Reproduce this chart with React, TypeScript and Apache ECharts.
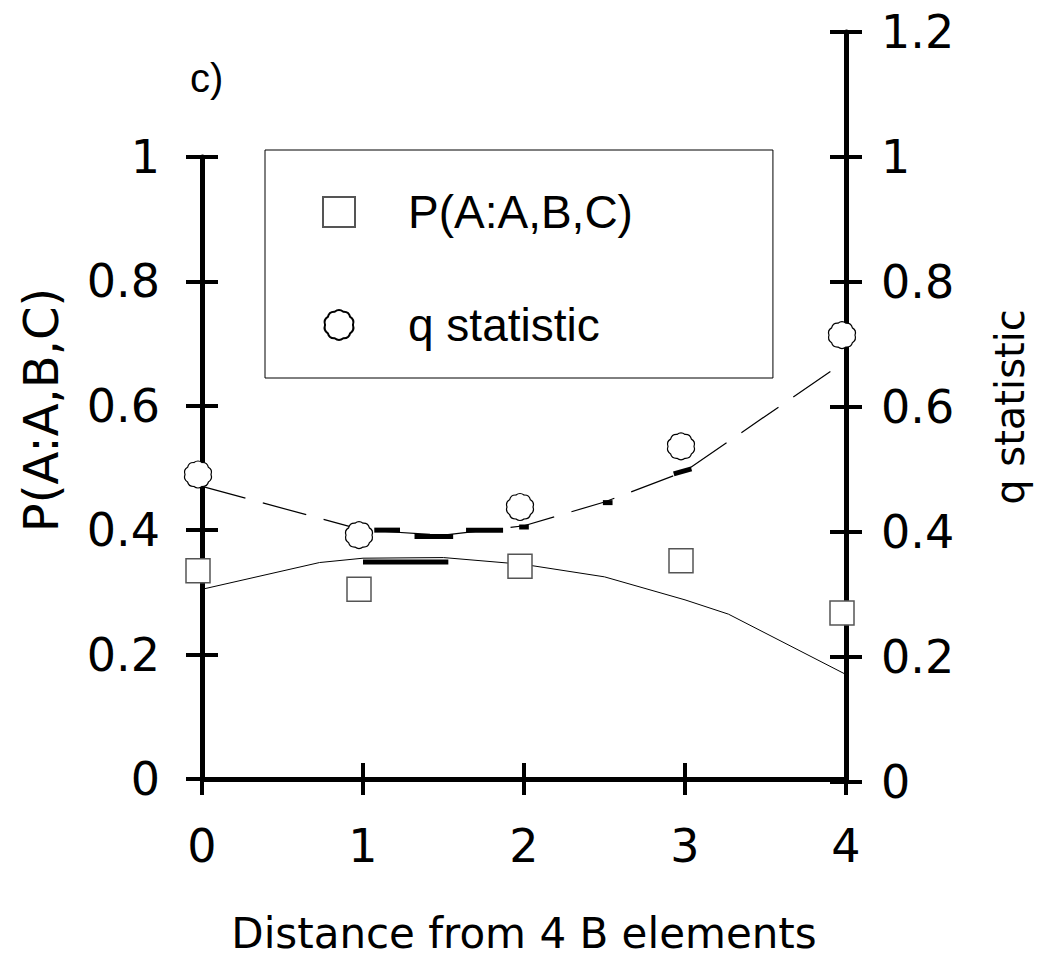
import React, { useEffect, useRef } from "react";
import * as echarts from "echarts";

// ---- data ----
const xValues = [0, 1, 2, 3, 4];
const pValues = [0.335, 0.305, 0.342, 0.351, 0.267];
const qValues = [0.492, 0.395, 0.44, 0.537, 0.715];

const pFitX = [0, 0.73, 1, 1.5, 2, 2.5, 3, 3.27, 4];
const pFitY = [0.305, 0.348, 0.355, 0.356, 0.345, 0.325, 0.288, 0.265, 0.168];
const pBoldX = [1.0, 1.53];
const pBoldY = [0.349, 0.349];

const qFitX = [0, 1, 1.5, 2, 2.5, 3, 4];
const qFitY = [0.473, 0.403, 0.395, 0.41, 0.448, 0.497, 0.674];
const qBoldStartX = [1.07, 1.32, 1.64, 1.97, 2.49, 2.93];
const qBoldEndX = [1.23, 1.56, 1.87, 2.03, 2.55, 3.04];
const qBoldStartY = [0.403, 0.393, 0.403, 0.408, 0.447, 0.493];
const qBoldEndY = [0.403, 0.393, 0.403, 0.408, 0.447, 0.501];

const leftTicks = { min: 0, max: 1, interval: 0.2 };
const rightTicks = { min: 0, max: 1.2, interval: 0.2 };
const xTicks = { min: 0, max: 4, interval: 1 };

const pName = "P(A:A,B,C)";
const qName = "q statistic";
const xTitle = "Distance from 4 B elements";
const leftTitle = "P(A:A,B,C)";
const rightTitle = "q statistic";
const panelLabel = "c)";

const BLOB =
  "path://M95,50 Q101,67 86,77 Q82,94 64,93 Q50,104 36,93 Q18,94 14,77 Q-1,67 5,50 Q-1,33 14,24 Q18,6 36,7 Q50,-4 64,7 Q82,6 86,24 Q101,33 95,50 Z";

const FONT = "DejaVu Sans";
const GRID_LEFT = 202;
const GRID_RIGHT = 201;
const GRID_BOTTOM = 177;

export default function App() {
  const ref = useRef<HTMLDivElement>(null);
  useEffect(() => {
    const chart = echarts.init(ref.current!, null, { renderer: "svg" });
    const axisLine = { show: true, onZero: false, lineStyle: { color: "#000", width: 5 } };
    const noLine = { show: false, onZero: false };
    const tickOut = { show: true, inside: false, length: 16, lineStyle: { color: "#000", width: 4 } };
    const tickIn = { show: true, inside: true, length: 16, lineStyle: { color: "#000", width: 4 } };
    const labelStyle = { color: "#000", fontSize: 46, fontFamily: FONT };

    const pair = (xs: number[], ys: number[]) => xs.map((x, i) => [x, ys[i]]);

    const boldQ = qBoldStartX.map((sx, i) => ({
      type: "line",
      xAxisIndex: 2,
      yAxisIndex: 2,
      data: [
        [sx, qBoldStartY[i]],
        [qBoldEndX[i], qBoldEndY[i]],
      ],
      symbol: "none",
      silent: true,
      lineStyle: { color: "#000", width: 5, cap: "butt" },
      z: 3,
    }));

    const option: any = {
      animation: false,
      backgroundColor: "#fff",
      grid: [
        { left: GRID_LEFT, right: GRID_RIGHT, top: 157, bottom: GRID_BOTTOM },
        { left: GRID_LEFT, right: GRID_RIGHT, top: 32, bottom: GRID_BOTTOM },
      ],
      xAxis: [
        {
          type: "value",
          gridIndex: 0,
          position: "bottom",
          ...xTicks,
          axisLine,
          axisTick: tickOut,
          splitLine: { show: false },
          axisLabel: { ...labelStyle, margin: 44 },
          name: xTitle,
          nameLocation: "middle",
          nameGap: 133,
          nameTextStyle: { color: "#000", fontSize: 42, fontFamily: FONT },
        },
        {
          type: "value",
          gridIndex: 0,
          position: "bottom",
          ...xTicks,
          axisLine: noLine,
          axisTick: tickIn,
          splitLine: { show: false },
          axisLabel: { show: false },
        },
        {
          type: "value",
          gridIndex: 1,
          position: "bottom",
          ...xTicks,
          show: false,
        },
      ],
      yAxis: [
        {
          type: "value",
          gridIndex: 0,
          position: "left",
          ...leftTicks,
          axisLine,
          axisTick: tickOut,
          splitLine: { show: false },
          axisLabel: { ...labelStyle, margin: 42 },
        },
        {
          type: "value",
          gridIndex: 0,
          position: "left",
          ...leftTicks,
          axisLine: noLine,
          axisTick: tickIn,
          splitLine: { show: false },
          axisLabel: { show: false },
        },
        {
          type: "value",
          gridIndex: 1,
          position: "right",
          ...rightTicks,
          axisLine,
          axisTick: tickOut,
          splitLine: { show: false },
          axisLabel: { ...labelStyle, margin: 35 },
        },
        {
          type: "value",
          gridIndex: 1,
          position: "right",
          ...rightTicks,
          axisLine: noLine,
          axisTick: tickIn,
          splitLine: { show: false },
          axisLabel: { show: false },
        },
      ],
      legend: {
        show: true,
        orient: "vertical",
        left: 265,
        top: 150,
        padding: [34, 140, 25, 57],
        itemGap: 57,
        itemWidth: 32,
        itemHeight: 30,
        borderColor: "#000",
        borderWidth: 1,
        selectedMode: false,
        data: [pName, qName],
        textStyle: {
          color: "#000",
          fontSize: 46,
          fontFamily: "Liberation Sans",
          lineHeight: 56,
          padding: [0, 0, 0, 48],
        },
      },
      graphic: [
        {
          type: "text",
          left: 190,
          top: 58,
          style: { text: panelLabel, fill: "#000", font: "40px 'Liberation Sans'" },
        },
        {
          type: "text",
          x: 41,
          y: 410,
          rotation: Math.PI / 2,
          style: {
            text: leftTitle,
            fill: "#000",
            font: `48px '${FONT}'`,
            align: "center",
            verticalAlign: "middle",
          },
        },
        {
          type: "text",
          x: 1010,
          y: 407,
          rotation: Math.PI / 2,
          style: {
            text: rightTitle,
            fill: "#000",
            font: `40px '${FONT}'`,
            align: "center",
            verticalAlign: "middle",
          },
        },
      ],
      series: [
        {
          type: "line",
          xAxisIndex: 0,
          yAxisIndex: 0,
          data: pair(pFitX, pFitY),
          symbol: "none",
          silent: true,
          lineStyle: { color: "#000", width: 1 },
          z: 2,
        },
        {
          type: "line",
          xAxisIndex: 0,
          yAxisIndex: 0,
          data: pair(pBoldX, pBoldY),
          symbol: "none",
          silent: true,
          lineStyle: { color: "#000", width: 5, cap: "butt" },
          z: 3,
        },
        {
          type: "line",
          xAxisIndex: 2,
          yAxisIndex: 2,
          data: pair(qFitX, qFitY),
          symbol: "none",
          silent: true,
          lineStyle: { color: "#000", width: 1.2, type: [45, 18] },
          z: 2,
        },
        ...boldQ,
        {
          name: pName,
          type: "scatter",
          xAxisIndex: 0,
          yAxisIndex: 0,
          data: pair(xValues, pValues),
          symbol: "rect",
          symbolSize: 24,
          symbolOffset: [-4, 0],
          itemStyle: { color: "#fff", borderColor: "#555", borderWidth: 1.5, opacity: 1 },
          z: 5,
        },
        {
          name: qName,
          type: "scatter",
          xAxisIndex: 2,
          yAxisIndex: 2,
          data: pair(xValues, qValues),
          symbol: BLOB,
          symbolSize: 27,
          symbolOffset: [-4, 0],
          itemStyle: { color: "#fff", borderColor: "#000", borderWidth: 1.2, opacity: 1 },
          z: 5,
        },
      ],
    };
    chart.setOption(option);
    return () => chart.dispose();
  }, []);
  return (
    <div
      ref={ref}
      style={{ position: "absolute", left: 0, top: 0, width: 1047, height: 959 }}
    />
  );
}
